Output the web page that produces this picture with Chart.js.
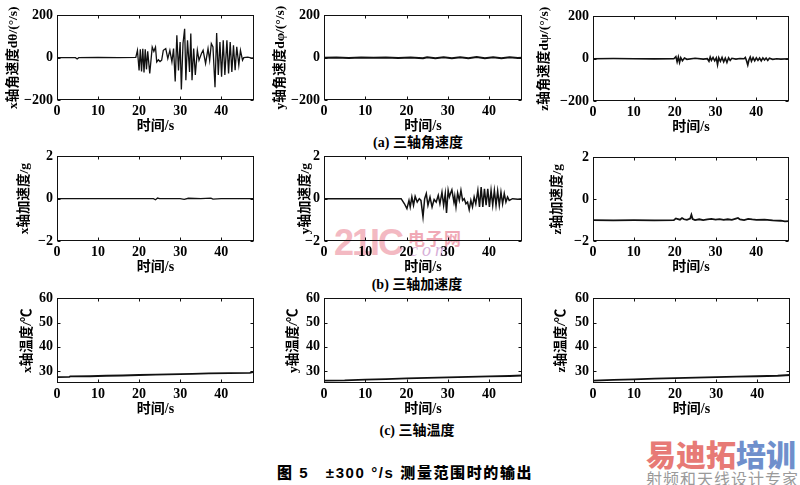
<!DOCTYPE html>
<html><head><meta charset="utf-8">
<script src="https://cdn.jsdelivr.net/npm/chart.js@4.4.0/dist/chart.umd.min.js"></script>
<style>
html,body{margin:0;padding:0;background:#fff;}
body{width:800px;height:485px;position:relative;overflow:hidden;}
canvas{position:absolute;}
.cap{position:absolute;transform:translate(-50%,-50%);white-space:nowrap;font-weight:bold;color:#000;
 font-family:'Liberation Serif','Noto Sans CJK SC',serif;font-size:14px;line-height:1;}
.wm{position:absolute;white-space:nowrap;line-height:1;}
</style></head><body>
<div class="wm" style="left:334px;top:222px;font:bold 36px 'Liberation Sans',Arial,sans-serif;color:#f3b9c2;letter-spacing:-2px">21IC</div>
<div class="wm" style="left:408px;top:225px;font:bold 17px 'Noto Sans CJK SC',sans-serif;color:#f0a9b6;letter-spacing:1px">电子网</div>
<div class="wm" style="left:410px;top:240px;font:italic 18px 'Liberation Serif',serif;color:#d8b0d8;letter-spacing:4px">com</div>
<div class="cap" style="left:418px;top:143px">(a) 三轴角速度</div>
<div class="cap" style="left:417px;top:285px">(b) 三轴加速度</div>
<div class="cap" style="left:417px;top:431px">(c) 三轴温度</div>
<div class="cap" style="left:405px;top:472px;font-family:'Liberation Sans','Noto Sans CJK SC',sans-serif;font-size:15px;font-weight:900;letter-spacing:1.6px">图 5　±300 °/s 测量范围时的输出</div>
<div class="wm" style="left:646px;top:431px;font:900 30px 'Noto Sans CJK SC',sans-serif;"><span style="color:#e77a76">易迪拓</span><span style="color:#6f8fcc">培训</span></div>
<div class="wm" style="left:646px;top:466px;font:16px 'Noto Sans CJK SC',sans-serif;color:#9a9a9a;letter-spacing:1px">射频和天线设计专家</div>
<script>
// ---- tick labels ----
const timeTicks = [0, 10, 20, 30, 40];
const rateTicks = [-200, 0, 200];
const accTicks = [-2, 0, 2];
const tempTicks = [30, 40, 50, 60];

// ---- series: [time s, value] ----
const gyroX = [[0,0],[4.5,0],[4.9,-6],[5.3,0],[10,1],[15,0],[19.2,2],[19.6,35],[20.0,-60],[20.3,40],[20.6,-65],[20.9,42],[21.2,-70],[21.5,40],[21.8,-55],[22.1,30],[22.6,-75],[23.2,50],[23.6,30],[24.0,50],[24.3,-20],[24.7,-10],[25.1,-18],[25.5,-12],[25.9,35],[26.5,43],[27.0,-4],[27.5,35],[28.0,-20],[28.4,43],[28.8,-112],[29.2,106],[29.6,-60],[30.0,74],[30.3,-150],[30.7,67],[31.1,137],[31.4,-106],[31.8,82],[32.3,-67],[32.6,114],[32.9,-106],[33.3,43],[33.7,-82],[34.2,35],[34.6,-12],[35.2,20],[35.6,35],[36.2,-27],[36.8,43],[37.2,-12],[37.6,67],[38.0,51],[38.5,-140],[38.9,117],[39.3,-82],[39.7,74],[40.1,-90],[40.5,82],[40.9,-82],[41.4,82],[41.8,-74],[42.2,74],[42.6,-67],[43.0,59],[43.4,-59],[43.8,51],[44.3,-35],[44.7,35],[45.2,-12],[45.5,0],[46.5,3],[47.5,-2],[48,0]];
const gyroY = [[0,0],[3,1],[6,-1],[9,1],[12,0],[15,1],[18,-1],[21,1],[24,-3],[25,2],[27,-2],[29,2],[31,-3],[33,2],[35,-2],[37,3],[39,-3],[41,2],[43,-3],[45,2],[47,-1],[48,0]];
const gyroZ = [[0,0],[5,1],[10,0],[15,-1],[19.8,0],[20.3,10],[20.6,-15],[20.9,8],[21.2,-18],[21.5,5],[21.9,-10],[22.4,3],[23,-3],[25,2],[27,-2],[28,0],[28.4,-12],[28.7,8],[29.0,-8],[29.4,6],[29.8,-10],[30.2,4],[30.5,-28],[30.8,5],[31.2,-12],[31.6,6],[32,-15],[32.4,3],[32.8,-18],[33.2,4],[33.6,-8],[34,2],[35,-2],[36,1],[37,0],[37.3,6],[37.6,-10],[37.9,-30],[38.2,-5],[38.5,8],[38.8,-12],[39.2,5],[39.6,-10],[40,4],[40.4,-8],[40.8,3],[41.2,-10],[41.6,4],[42,-6],[42.4,3],[42.8,-8],[43.2,2],[44,-3],[45,0],[46,-2],[48,0]];
const accX = [[0,0],[10,0],[20,0],[23.5,0],[24,-0.05],[24.5,0.03],[25,0],[30,0],[31,-0.03],[32,0.02],[35,0],[37.5,0.03],[38,-0.02],[40,0],[48,0]];
const accY = [[0,0],[10,0],[18.7,0],[19.5,-0.24],[20.1,-0.47],[20.6,-0.08],[20.9,-0.39],[21.3,0.08],[21.7,-0.31],[22.1,0.11],[22.6,-0.16],[23.1,0],[23.5,-0.08],[24.0,-0.86],[24.4,0],[24.8,0.24],[25.2,-0.31],[25.7,0.08],[26.2,-0.39],[26.7,-0.03],[27.2,-0.16],[27.7,0.16],[28.1,-0.24],[28.6,0.31],[29.0,-0.31],[29.4,0.24],[29.7,-0.67],[30.1,0.39],[30.4,0.08],[30.7,0.27],[31.0,0.42],[31.5,-0.16],[31.7,0.11],[32.0,-0.39],[32.4,0.27],[32.8,-0.08],[33.2,0.39],[33.6,-0.08],[34.0,0],[34.4,-0.24],[34.8,-0.16],[35.2,-0.52],[35.6,-0.08],[36.0,-0.39],[36.4,0.08],[36.8,-0.24],[37.3,0.39],[37.7,-0.39],[38.1,0.55],[38.5,-0.39],[38.9,0.47],[39.3,-0.31],[39.7,0.47],[40.1,-0.39],[40.5,0.39],[40.9,-0.31],[41.3,0.39],[41.7,-0.31],[42.1,0.36],[42.5,-0.31],[42.9,0.31],[43.3,-0.24],[43.7,0.24],[44.1,-0.16],[44.5,0.08],[44.9,-0.08],[45.7,0],[47,-0.02],[48,0]];
const accZ = [[0,-1],[5,-1.01],[10,-1],[15,-1.01],[19.8,-1],[20.3,-0.92],[20.8,-0.95],[21.3,-0.98],[21.8,-0.9],[22.3,-0.96],[23,-0.99],[23.8,-0.93],[24.1,-0.75],[24.4,-0.95],[25,-1],[26,-0.96],[27,-1],[28,-0.97],[29,-0.94],[30,-0.98],[31,-0.95],[32,-0.99],[33,-0.96],[34,-0.99],[35,-0.93],[35.5,-0.9],[36,-0.97],[37,-1],[38,-0.94],[39,-0.97],[40,-0.99],[42,-0.98],[44,-1.01],[46,-1.03],[47,-1.06],[48,-1.05]];
const tempX = [[0,27.4],[3,27.5],[3.2,27.7],[8,27.8],[12,28.0],[16,28.1],[20,28.3],[24,28.5],[30,28.7],[33,28.8],[37,29.0],[42,29.1],[47,29.2],[48,29.6]];
const tempY = [[0,26.0],[5,26.1],[10,26.4],[15,26.6],[20,26.9],[25,27.1],[30,27.3],[35,27.5],[40,27.7],[45,27.9],[48,28.1]];
const tempZ = [[0,26.0],[5,26.3],[10,26.5],[15,26.8],[20,27.0],[25,27.2],[30,27.4],[35,27.6],[40,27.8],[45,28.0],[48,28.3]];

const xTitle = '时间/s';
const panels = [
  {data: gyroX, title: 'x轴角速度dθ/(°/s)', ticks: rateTicks, min: -200, max: 200, rect: [57,15,254,100], gap: 43, lw: 1.3},
  {data: gyroY, title: 'y轴角速度dφ/(°/s)', ticks: rateTicks, min: -200, max: 200, rect: [324,15,522,100], gap: 43, lw: 2},
  {data: gyroZ, title: 'z轴角速度dψ/(°/s)', ticks: rateTicks, min: -200, max: 200, rect: [593,16,789,101], gap: 49, lw: 1.6},
  {data: accX, title: 'x轴加速度/g', ticks: accTicks, min: -2, max: 2, rect: [57,156,254,241], gap: 32, lw: 1.3},
  {data: accY, title: 'y轴加速度/g', ticks: accTicks, min: -2, max: 2, rect: [324,156,522,241], gap: 18, lw: 1.5},
  {data: accZ, title: 'z轴加速度/g', ticks: accTicks, min: -2, max: 2, rect: [593,157,789,241], gap: 35, lw: 1.8},
  {data: tempX, title: 'x轴温度/℃', ticks: tempTicks, min: 25, max: 60, rect: [57,298,254,383], gap: 29, lw: 1.8},
  {data: tempY, title: 'y轴温度/℃', ticks: tempTicks, min: 25, max: 60, rect: [324,298,522,383], gap: 30, lw: 1.8},
  {data: tempZ, title: 'z轴温度/℃', ticks: tempTicks, min: 25, max: 60, rect: [593,298,790,383], gap: 31, lw: 1.8}
];

const AXW = 57, AXH = 40, PT = 12, PR = 8;
const tickFont = {family: "'Liberation Serif', 'Noto Sans CJK SC', serif", size: 14, weight: 'bold'};
const titleFont = {family: "'Liberation Serif', 'Noto Sans CJK SC', serif", size: 13.5, weight: 'bold'};
const xTitleFont = {family: "'Liberation Serif', 'Noto Sans CJK SC', serif", size: 14, weight: 'bold'};

const framePlugin = {
  id: 'frame',
  afterDatasetsDraw(chart) {
    const {ctx, chartArea: a, scales: {x, y}} = chart;
    ctx.save();
    ctx.strokeStyle = '#111';
    ctx.lineWidth = 1;
    const L = Math.round(a.left) + 0.5, R = Math.round(a.right) - 0.5;
    const T = Math.round(a.top) + 0.5, B = Math.round(a.bottom) - 0.5;
    ctx.strokeRect(L, T, R - L, B - T);
    ctx.beginPath();
    x.ticks.forEach(t => {
      const px = Math.round(x.getPixelForValue(t.value)) + 0.5;
      ctx.moveTo(px, B); ctx.lineTo(px, B - 3);
      ctx.moveTo(px, T); ctx.lineTo(px, T + 3);
    });
    y.ticks.forEach(t => {
      const py = Math.round(y.getPixelForValue(t.value)) + 0.5;
      ctx.moveTo(L, py); ctx.lineTo(L + 3, py);
      ctx.moveTo(R, py); ctx.lineTo(R - 3, py);
    });
    ctx.stroke();
    ctx.restore();
  }
};

panels.forEach(p => {
  const [x0, y0, x1, y1] = p.rect;
  const w = (x1 - x0) + AXW + PR, h = (y1 - y0) + PT + AXH;
  const c = document.createElement('canvas');
  c.width = w; c.height = h;
  c.style.left = (x0 - AXW) + 'px'; c.style.top = (y0 - PT) + 'px';
  c.style.width = w + 'px'; c.style.height = h + 'px';
  document.body.appendChild(c);
  const yTicks = p.ticks;
  new Chart(c, {
    type: 'line',
    data: {datasets: [{data: p.data.map(d => ({x: d[0], y: d[1]})), borderColor: '#111', borderWidth: p.lw, pointRadius: 0, tension: 0, fill: false}]},
    options: {
      responsive: false, animation: false, devicePixelRatio: 1,
      layout: {padding: {top: PT, right: PR, left: 0, bottom: 0}},
      plugins: {legend: {display: false}, tooltip: {enabled: false}},
      scales: {
        x: {type: 'linear', min: 0, max: 48,
          afterBuildTicks: s => { s.ticks = timeTicks.map(v => ({value: v})); },
          afterFit: s => { s.height = AXH; },
          grid: {display: false, drawTicks: false}, border: {display: false},
          ticks: {padding: 3, color: '#000', font: tickFont, maxRotation: 0, autoSkip: false},
          title: {display: true, text: xTitle, color: '#000', font: xTitleFont, padding: {top: 0, bottom: 5.5}}
        },
        y: {type: 'linear', min: p.min, max: p.max,
          afterBuildTicks: s => { s.ticks = yTicks.map(v => ({value: v})); },
          afterFit: s => { s.width = AXW; },
          grid: {display: false, drawTicks: false}, border: {display: false},
          ticks: {padding: 4, color: '#000', font: tickFont, autoSkip: false, callback: v => String(v).replace('-', '−')},
          title: {display: true, text: p.title, color: '#000', font: titleFont, padding: {top: Math.max(0, AXW - p.gap - 8.1), bottom: 0}}
        }
      }
    },
    plugins: [framePlugin]
  });
});
</script>
</body></html>
